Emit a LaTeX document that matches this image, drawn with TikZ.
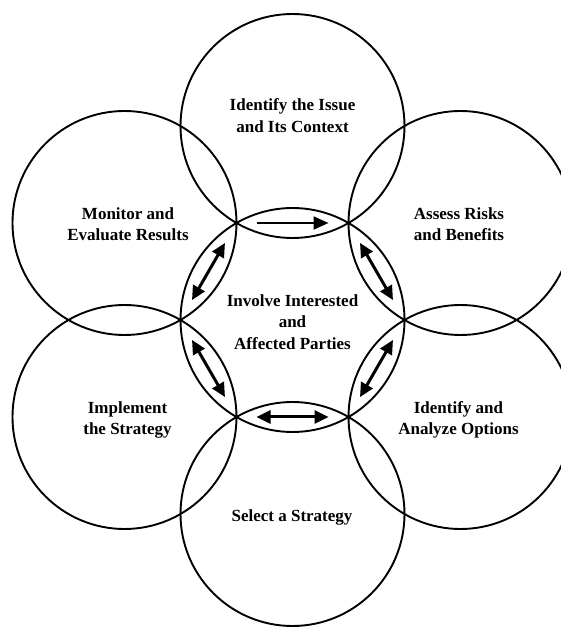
\documentclass[tikz,border=0pt]{standalone}
\usepackage{fontspec}
\setmainfont{Liberation Serif}
\usetikzlibrary{arrows.meta,calc}
\begin{document}
\begin{tikzpicture}[x=1pt,y=1pt,
  ring/.style={draw=black, line width=1.9pt},
  lbl/.style={font=\bfseries\fontsize{17}{21.5}\selectfont, align=center, inner sep=0pt},
  dbl/.style={{Triangle[length=14pt,width=13pt]}-{Triangle[length=14pt,width=13pt]}, line width=3pt},
  sgl/.style={-{Triangle[length=15pt,width=13pt]}, line width=2.2pt}]
\useasboundingbox (0,0) rectangle (561,627);
\clip (0,0) rectangle (561,627);
\coordinate (O) at (292.5,307);
\draw[ring] (O) circle (112);
\foreach \a/\n/\h in {90/top/36,30/tr/33,-30/br/33,-90/bot/36,-150/bl/33,150/tl/33} {
  \coordinate (c\n) at ($(O)+(\a:194)$);
  \draw[ring] (c\n) circle (112);
  \coordinate (m\n) at ($(O)+(\a:97)$);
  \coordinate (s\n) at ($(m\n)+(\a+90:\h)$);
  \coordinate (e\n) at ($(m\n)+(\a-90:\h)$);
}
\draw[sgl] (stop) -- (etop);
\draw[dbl] (str) -- (etr);
\draw[dbl] (sbr) -- (ebr);
\draw[dbl] (sbot) -- (ebot);
\draw[dbl] (sbl) -- (ebl);
\draw[dbl] (stl) -- (etl);
\node[lbl] (ttop) at (292.5,511.5) {Identify the Issue\\and Its Context};
\node[lbl] (ttl) at (128,403) {Monitor and\\Evaluate Results};
\node[lbl] (ttr) at (459,403) {Assess Risks\\and Benefits};
\node[lbl] (tmid) at (292.5,305) {Involve Interested\\and\\Affected Parties};
\node[lbl] (tbl) at (127.5,207) {Implement\\the Strategy};
\node[lbl] (tbr) at (458.5,207) {Identify and\\Analyze Options};
\node[lbl] (tbot) at (292,110) {Select a Strategy};
\end{tikzpicture}
\end{document}
